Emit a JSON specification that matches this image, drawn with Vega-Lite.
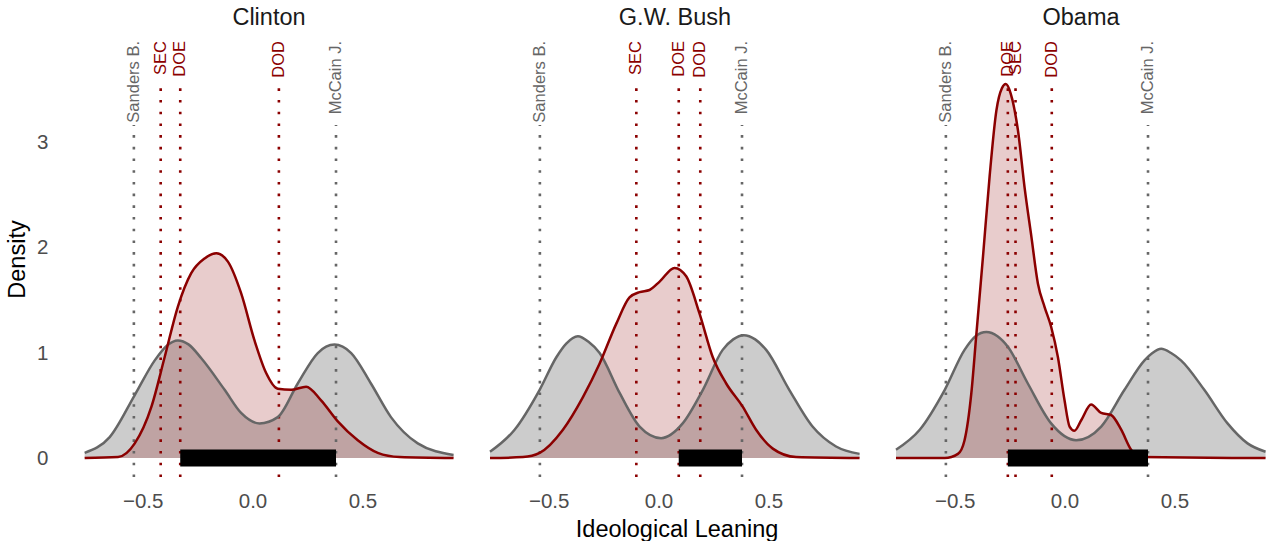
{
  "$schema": "https://vega.github.io/schema/vega-lite/v6.json",
  "background": "white",
  "padding": {"left": 5, "top": 5, "right": 0, "bottom": 0},
  "title": {"text": "Ideological Leaning", "orient": "bottom", "anchor": "middle", "frame": "bounds", "dx": 39, "offset": 6, "fontSize": 23.5, "fontWeight": "normal", "color": "#000000", "font": "Liberation Sans"},
  "data": {"values": [
    {"president": "Clinton", "kind": "dens", "group": "Congress", "x": -0.764, "d": 0.05},
    {"president": "Clinton", "kind": "dens", "group": "Congress", "x": -0.65, "d": 0.2},
    {"president": "Clinton", "kind": "dens", "group": "Congress", "x": -0.536, "d": 0.6},
    {"president": "Clinton", "kind": "dens", "group": "Congress", "x": -0.445, "d": 0.93},
    {"president": "Clinton", "kind": "dens", "group": "Congress", "x": -0.39, "d": 1.07},
    {"president": "Clinton", "kind": "dens", "group": "Congress", "x": -0.34, "d": 1.12},
    {"president": "Clinton", "kind": "dens", "group": "Congress", "x": -0.29, "d": 1.08},
    {"president": "Clinton", "kind": "dens", "group": "Congress", "x": -0.233, "d": 0.95},
    {"president": "Clinton", "kind": "dens", "group": "Congress", "x": -0.127, "d": 0.65},
    {"president": "Clinton", "kind": "dens", "group": "Congress", "x": -0.052, "d": 0.43},
    {"president": "Clinton", "kind": "dens", "group": "Congress", "x": 0.032, "d": 0.33},
    {"president": "Clinton", "kind": "dens", "group": "Congress", "x": 0.115, "d": 0.39},
    {"president": "Clinton", "kind": "dens", "group": "Congress", "x": 0.206, "d": 0.71},
    {"president": "Clinton", "kind": "dens", "group": "Congress", "x": 0.297, "d": 1.0},
    {"president": "Clinton", "kind": "dens", "group": "Congress", "x": 0.335, "d": 1.06},
    {"president": "Clinton", "kind": "dens", "group": "Congress", "x": 0.373, "d": 1.08},
    {"president": "Clinton", "kind": "dens", "group": "Congress", "x": 0.41, "d": 1.06},
    {"president": "Clinton", "kind": "dens", "group": "Congress", "x": 0.449, "d": 1.0},
    {"president": "Clinton", "kind": "dens", "group": "Congress", "x": 0.539, "d": 0.71},
    {"president": "Clinton", "kind": "dens", "group": "Congress", "x": 0.63, "d": 0.39},
    {"president": "Clinton", "kind": "dens", "group": "Congress", "x": 0.752, "d": 0.14},
    {"president": "Clinton", "kind": "dens", "group": "Congress", "x": 0.915, "d": 0.03},

    {"president": "Clinton", "kind": "dens", "group": "Appointees", "x": -0.764, "d": 0.0},
    {"president": "Clinton", "kind": "dens", "group": "Appointees", "x": -0.612, "d": 0.01},
    {"president": "Clinton", "kind": "dens", "group": "Appointees", "x": -0.536, "d": 0.14},
    {"president": "Clinton", "kind": "dens", "group": "Appointees", "x": -0.46, "d": 0.49},
    {"president": "Clinton", "kind": "dens", "group": "Appointees", "x": -0.4, "d": 0.96},
    {"president": "Clinton", "kind": "dens", "group": "Appointees", "x": -0.34, "d": 1.44},
    {"president": "Clinton", "kind": "dens", "group": "Appointees", "x": -0.279, "d": 1.76},
    {"president": "Clinton", "kind": "dens", "group": "Appointees", "x": -0.218, "d": 1.9},
    {"president": "Clinton", "kind": "dens", "group": "Appointees", "x": -0.165, "d": 1.95},
    {"president": "Clinton", "kind": "dens", "group": "Appointees", "x": -0.112, "d": 1.87},
    {"president": "Clinton", "kind": "dens", "group": "Appointees", "x": -0.052, "d": 1.57},
    {"president": "Clinton", "kind": "dens", "group": "Appointees", "x": 0.009, "d": 1.12},
    {"president": "Clinton", "kind": "dens", "group": "Appointees", "x": 0.062, "d": 0.81},
    {"president": "Clinton", "kind": "dens", "group": "Appointees", "x": 0.115, "d": 0.66},
    {"president": "Clinton", "kind": "dens", "group": "Appointees", "x": 0.176, "d": 0.65},
    {"president": "Clinton", "kind": "dens", "group": "Appointees", "x": 0.244, "d": 0.68},
    {"president": "Clinton", "kind": "dens", "group": "Appointees", "x": 0.312, "d": 0.55},
    {"president": "Clinton", "kind": "dens", "group": "Appointees", "x": 0.388, "d": 0.35},
    {"president": "Clinton", "kind": "dens", "group": "Appointees", "x": 0.479, "d": 0.17},
    {"president": "Clinton", "kind": "dens", "group": "Appointees", "x": 0.57, "d": 0.05},
    {"president": "Clinton", "kind": "dens", "group": "Appointees", "x": 0.67, "d": 0.01},
    {"president": "Clinton", "kind": "dens", "group": "Appointees", "x": 0.915, "d": 0.0},

    {"president": "G.W. Bush", "kind": "dens", "group": "Congress", "x": -0.767, "d": 0.06},
    {"president": "G.W. Bush", "kind": "dens", "group": "Congress", "x": -0.655, "d": 0.27},
    {"president": "G.W. Bush", "kind": "dens", "group": "Congress", "x": -0.541, "d": 0.65},
    {"president": "G.W. Bush", "kind": "dens", "group": "Congress", "x": -0.465, "d": 0.96},
    {"president": "G.W. Bush", "kind": "dens", "group": "Congress", "x": -0.42, "d": 1.09},
    {"president": "G.W. Bush", "kind": "dens", "group": "Congress", "x": -0.367, "d": 1.16},
    {"president": "G.W. Bush", "kind": "dens", "group": "Congress", "x": -0.32, "d": 1.11},
    {"president": "G.W. Bush", "kind": "dens", "group": "Congress", "x": -0.268, "d": 1.0},
    {"president": "G.W. Bush", "kind": "dens", "group": "Congress", "x": -0.177, "d": 0.62},
    {"president": "G.W. Bush", "kind": "dens", "group": "Congress", "x": -0.086, "d": 0.3},
    {"president": "G.W. Bush", "kind": "dens", "group": "Congress", "x": 0.012, "d": 0.19},
    {"president": "G.W. Bush", "kind": "dens", "group": "Congress", "x": 0.11, "d": 0.33},
    {"president": "G.W. Bush", "kind": "dens", "group": "Congress", "x": 0.202, "d": 0.65},
    {"president": "G.W. Bush", "kind": "dens", "group": "Congress", "x": 0.292, "d": 1.03},
    {"president": "G.W. Bush", "kind": "dens", "group": "Congress", "x": 0.34, "d": 1.13},
    {"president": "G.W. Bush", "kind": "dens", "group": "Congress", "x": 0.388, "d": 1.17},
    {"president": "G.W. Bush", "kind": "dens", "group": "Congress", "x": 0.44, "d": 1.13},
    {"president": "G.W. Bush", "kind": "dens", "group": "Congress", "x": 0.49, "d": 1.03},
    {"president": "G.W. Bush", "kind": "dens", "group": "Congress", "x": 0.595, "d": 0.65},
    {"president": "G.W. Bush", "kind": "dens", "group": "Congress", "x": 0.701, "d": 0.3},
    {"president": "G.W. Bush", "kind": "dens", "group": "Congress", "x": 0.808, "d": 0.11},
    {"president": "G.W. Bush", "kind": "dens", "group": "Congress", "x": 0.915, "d": 0.04},

    {"president": "G.W. Bush", "kind": "dens", "group": "Appointees", "x": -0.767, "d": 0.0},
    {"president": "G.W. Bush", "kind": "dens", "group": "Appointees", "x": -0.617, "d": 0.01},
    {"president": "G.W. Bush", "kind": "dens", "group": "Appointees", "x": -0.541, "d": 0.05},
    {"president": "G.W. Bush", "kind": "dens", "group": "Appointees", "x": -0.435, "d": 0.27},
    {"president": "G.W. Bush", "kind": "dens", "group": "Appointees", "x": -0.344, "d": 0.58},
    {"president": "G.W. Bush", "kind": "dens", "group": "Appointees", "x": -0.268, "d": 0.9},
    {"president": "G.W. Bush", "kind": "dens", "group": "Appointees", "x": -0.192, "d": 1.28},
    {"president": "G.W. Bush", "kind": "dens", "group": "Appointees", "x": -0.132, "d": 1.53},
    {"president": "G.W. Bush", "kind": "dens", "group": "Appointees", "x": -0.086, "d": 1.58},
    {"president": "G.W. Bush", "kind": "dens", "group": "Appointees", "x": -0.041, "d": 1.6},
    {"president": "G.W. Bush", "kind": "dens", "group": "Appointees", "x": 0.005, "d": 1.68},
    {"president": "G.W. Bush", "kind": "dens", "group": "Appointees", "x": 0.073, "d": 1.81},
    {"president": "G.W. Bush", "kind": "dens", "group": "Appointees", "x": 0.126, "d": 1.73},
    {"president": "G.W. Bush", "kind": "dens", "group": "Appointees", "x": 0.186, "d": 1.38},
    {"president": "G.W. Bush", "kind": "dens", "group": "Appointees", "x": 0.247, "d": 0.96},
    {"president": "G.W. Bush", "kind": "dens", "group": "Appointees", "x": 0.308, "d": 0.71},
    {"president": "G.W. Bush", "kind": "dens", "group": "Appointees", "x": 0.383, "d": 0.49},
    {"president": "G.W. Bush", "kind": "dens", "group": "Appointees", "x": 0.444, "d": 0.27},
    {"president": "G.W. Bush", "kind": "dens", "group": "Appointees", "x": 0.52, "d": 0.09},
    {"president": "G.W. Bush", "kind": "dens", "group": "Appointees", "x": 0.626, "d": 0.01},
    {"president": "G.W. Bush", "kind": "dens", "group": "Appointees", "x": 0.915, "d": 0.0},

    {"president": "Obama", "kind": "dens", "group": "Congress", "x": -0.767, "d": 0.08},
    {"president": "Obama", "kind": "dens", "group": "Congress", "x": -0.659, "d": 0.27},
    {"president": "Obama", "kind": "dens", "group": "Congress", "x": -0.545, "d": 0.65},
    {"president": "Obama", "kind": "dens", "group": "Congress", "x": -0.455, "d": 1.03},
    {"president": "Obama", "kind": "dens", "group": "Congress", "x": -0.405, "d": 1.16},
    {"president": "Obama", "kind": "dens", "group": "Congress", "x": -0.356, "d": 1.2},
    {"president": "Obama", "kind": "dens", "group": "Congress", "x": -0.305, "d": 1.16},
    {"president": "Obama", "kind": "dens", "group": "Congress", "x": -0.258, "d": 1.06},
    {"president": "Obama", "kind": "dens", "group": "Congress", "x": -0.167, "d": 0.71},
    {"president": "Obama", "kind": "dens", "group": "Congress", "x": -0.061, "d": 0.33},
    {"president": "Obama", "kind": "dens", "group": "Congress", "x": 0.053, "d": 0.17},
    {"president": "Obama", "kind": "dens", "group": "Congress", "x": 0.167, "d": 0.3},
    {"president": "Obama", "kind": "dens", "group": "Congress", "x": 0.273, "d": 0.65},
    {"president": "Obama", "kind": "dens", "group": "Congress", "x": 0.364, "d": 0.93},
    {"president": "Obama", "kind": "dens", "group": "Congress", "x": 0.4, "d": 1.0},
    {"president": "Obama", "kind": "dens", "group": "Congress", "x": 0.44, "d": 1.04},
    {"president": "Obama", "kind": "dens", "group": "Congress", "x": 0.485, "d": 1.0},
    {"president": "Obama", "kind": "dens", "group": "Congress", "x": 0.53, "d": 0.93},
    {"president": "Obama", "kind": "dens", "group": "Congress", "x": 0.636, "d": 0.65},
    {"president": "Obama", "kind": "dens", "group": "Congress", "x": 0.742, "d": 0.33},
    {"president": "Obama", "kind": "dens", "group": "Congress", "x": 0.833, "d": 0.14},
    {"president": "Obama", "kind": "dens", "group": "Congress", "x": 0.915, "d": 0.06},

    {"president": "Obama", "kind": "dens", "group": "Appointees", "x": -0.767, "d": 0.0},
    {"president": "Obama", "kind": "dens", "group": "Appointees", "x": -0.545, "d": 0.0},
    {"president": "Obama", "kind": "dens", "group": "Appointees", "x": -0.485, "d": 0.04},
    {"president": "Obama", "kind": "dens", "group": "Appointees", "x": -0.455, "d": 0.17},
    {"president": "Obama", "kind": "dens", "group": "Appointees", "x": -0.424, "d": 0.62},
    {"president": "Obama", "kind": "dens", "group": "Appointees", "x": -0.402, "d": 1.16},
    {"president": "Obama", "kind": "dens", "group": "Appointees", "x": -0.371, "d": 1.92},
    {"president": "Obama", "kind": "dens", "group": "Appointees", "x": -0.341, "d": 2.68},
    {"president": "Obama", "kind": "dens", "group": "Appointees", "x": -0.31, "d": 3.31},
    {"president": "Obama", "kind": "dens", "group": "Appointees", "x": -0.285, "d": 3.52},
    {"president": "Obama", "kind": "dens", "group": "Appointees", "x": -0.267, "d": 3.56},
    {"president": "Obama", "kind": "dens", "group": "Appointees", "x": -0.245, "d": 3.47},
    {"president": "Obama", "kind": "dens", "group": "Appointees", "x": -0.212, "d": 3.12},
    {"president": "Obama", "kind": "dens", "group": "Appointees", "x": -0.182, "d": 2.58},
    {"president": "Obama", "kind": "dens", "group": "Appointees", "x": -0.151, "d": 2.11},
    {"president": "Obama", "kind": "dens", "group": "Appointees", "x": -0.121, "d": 1.66},
    {"president": "Obama", "kind": "dens", "group": "Appointees", "x": -0.091, "d": 1.44},
    {"president": "Obama", "kind": "dens", "group": "Appointees", "x": -0.061, "d": 1.25},
    {"president": "Obama", "kind": "dens", "group": "Appointees", "x": -0.03, "d": 0.96},
    {"president": "Obama", "kind": "dens", "group": "Appointees", "x": 0.0, "d": 0.55},
    {"president": "Obama", "kind": "dens", "group": "Appointees", "x": 0.023, "d": 0.3},
    {"president": "Obama", "kind": "dens", "group": "Appointees", "x": 0.045, "d": 0.26},
    {"president": "Obama", "kind": "dens", "group": "Appointees", "x": 0.076, "d": 0.36},
    {"president": "Obama", "kind": "dens", "group": "Appointees", "x": 0.121, "d": 0.51},
    {"president": "Obama", "kind": "dens", "group": "Appointees", "x": 0.167, "d": 0.43},
    {"president": "Obama", "kind": "dens", "group": "Appointees", "x": 0.212, "d": 0.41},
    {"president": "Obama", "kind": "dens", "group": "Appointees", "x": 0.258, "d": 0.27},
    {"president": "Obama", "kind": "dens", "group": "Appointees", "x": 0.303, "d": 0.08},
    {"president": "Obama", "kind": "dens", "group": "Appointees", "x": 0.348, "d": 0.01},
    {"president": "Obama", "kind": "dens", "group": "Appointees", "x": 0.915, "d": 0.0},

    {"president": "Clinton", "kind": "line", "group": "Congress", "name": "Sanders B.", "x": -0.54},
    {"president": "Clinton", "kind": "line", "group": "Appointees", "name": "SEC", "x": -0.418},
    {"president": "Clinton", "kind": "line", "group": "Appointees", "name": "DOE", "x": -0.329},
    {"president": "Clinton", "kind": "line", "group": "Appointees", "name": "DOD", "x": 0.12},
    {"president": "Clinton", "kind": "line", "group": "Congress", "name": "McCain J.", "x": 0.38},
    {"president": "G.W. Bush", "kind": "line", "group": "Congress", "name": "Sanders B.", "x": -0.54},
    {"president": "G.W. Bush", "kind": "line", "group": "Appointees", "name": "SEC", "x": -0.101},
    {"president": "G.W. Bush", "kind": "line", "group": "Appointees", "name": "DOE", "x": 0.092},
    {"president": "G.W. Bush", "kind": "line", "group": "Appointees", "name": "DOD", "x": 0.19},
    {"president": "G.W. Bush", "kind": "line", "group": "Congress", "name": "McCain J.", "x": 0.38},
    {"president": "Obama", "kind": "line", "group": "Congress", "name": "Sanders B.", "x": -0.54},
    {"president": "Obama", "kind": "line", "group": "Appointees", "name": "DOE", "x": -0.258},
    {"president": "Obama", "kind": "line", "group": "Appointees", "name": "SEC", "x": -0.223},
    {"president": "Obama", "kind": "line", "group": "Appointees", "name": "DOD", "x": -0.058},
    {"president": "Obama", "kind": "line", "group": "Congress", "name": "McCain J.", "x": 0.38},

    {"president": "Clinton", "kind": "range", "x": -0.329, "x2": 0.38},
    {"president": "G.W. Bush", "kind": "range", "x": 0.092, "x2": 0.38},
    {"president": "Obama", "kind": "range", "x": -0.258, "x2": 0.38}
  ]},
  "facet": {
    "column": {
      "field": "president", "type": "nominal",
      "sort": ["Clinton", "G.W. Bush", "Obama"],
      "header": {"title": null, "labelFontSize": 23.5, "labelColor": "#1A1A1A", "labelFont": "Liberation Sans", "labelPadding": 12}
    }
  },
  "spacing": 26,
  "spec": {
    "width": 370,
    "height": 436,
    "layer": [
      {
        "transform": [{"filter": "datum.kind === 'dens' && datum.group === 'Congress'"}],
        "mark": {"type": "area", "interpolate": "monotone", "fill": "#7F7F7F", "fillOpacity": 0.4},
        "encoding": {
          "x": {"field": "x", "type": "quantitative", "scale": {"domain": [-0.767, 0.917], "nice": false, "zero": false},
                "axis": {"values": [-0.5, 0, 0.5], "format": ".1f", "title": null}},
          "y": {"field": "d", "type": "quantitative", "scale": {"domain": [-0.18, 3.97], "nice": false, "zero": false},
                "axis": {"values": [0, 1, 2, 3], "format": "d", "title": "Density"}}
        }
      },
      {
        "transform": [{"filter": "datum.kind === 'dens' && datum.group === 'Appointees'"}],
        "mark": {"type": "area", "interpolate": "monotone", "fill": "#8B0000", "fillOpacity": 0.2},
        "encoding": {
          "x": {"field": "x", "type": "quantitative"},
          "y": {"field": "d", "type": "quantitative"}
        }
      },
      {
        "transform": [{"filter": "datum.kind === 'line' && datum.group === 'Congress'"}],
        "mark": {"type": "rule", "color": "#666666", "strokeWidth": 2.6, "strokeDash": [2.6, 9.1]},
        "encoding": {
          "x": {"field": "x", "type": "quantitative"},
          "y": {"datum": -0.18, "type": "quantitative"},
          "y2": {"datum": 3.17}
        }
      },
      {
        "transform": [{"filter": "datum.kind === 'line' && datum.group === 'Appointees'"}],
        "mark": {"type": "rule", "color": "#8B0000", "strokeWidth": 2.6, "strokeDash": [2.6, 9.1]},
        "encoding": {
          "x": {"field": "x", "type": "quantitative"},
          "y": {"datum": -0.18, "type": "quantitative"},
          "y2": {"datum": 3.54}
        }
      },
      {
        "transform": [{"filter": "datum.kind === 'dens' && datum.group === 'Congress'"}],
        "mark": {"type": "line", "interpolate": "monotone", "color": "#666666", "strokeWidth": 2.5},
        "encoding": {
          "x": {"field": "x", "type": "quantitative"},
          "y": {"field": "d", "type": "quantitative"}
        }
      },
      {
        "transform": [{"filter": "datum.kind === 'dens' && datum.group === 'Appointees'"}],
        "mark": {"type": "line", "interpolate": "monotone", "color": "#8B0000", "strokeWidth": 2.5},
        "encoding": {
          "x": {"field": "x", "type": "quantitative"},
          "y": {"field": "d", "type": "quantitative"}
        }
      },
      {
        "transform": [{"filter": "datum.kind === 'line'"}],
        "mark": {"type": "text", "angle": 270, "align": "right", "baseline": "middle", "fontSize": 16.5, "font": "Liberation Sans"},
        "encoding": {
          "x": {"field": "x", "type": "quantitative"},
          "y": {"datum": 3.97, "type": "quantitative"},
          "text": {"field": "name", "type": "nominal"},
          "color": {"field": "group", "type": "nominal", "scale": {"domain": ["Congress", "Appointees"], "range": ["#666666", "#8B0000"]}, "legend": null}
        }
      },
      {
        "transform": [{"filter": "datum.kind === 'range'"}],
        "mark": {"type": "rule", "color": "#000000", "strokeWidth": 17, "strokeCap": "butt"},
        "encoding": {
          "x": {"field": "x", "type": "quantitative"},
          "x2": {"field": "x2"},
          "y": {"datum": 0, "type": "quantitative"}
        }
      }
    ]
  },
  "config": {
    "view": {"stroke": null},
    "font": "Liberation Sans",
    "axis": {"grid": false, "domain": false, "ticks": false, "tickSize": 0, "labelFont": "Liberation Sans", "titleFont": "Liberation Sans", "labelColor": "#4D4D4D", "labelFontSize": 20.5, "titleFontSize": 23.5, "titleColor": "#000000", "titleFontWeight": "normal"},
    "axisX": {"labelPadding": 12, "titlePadding": 6},
    "axisY": {"labelPadding": 31, "titlePadding": 7}
  }
}
